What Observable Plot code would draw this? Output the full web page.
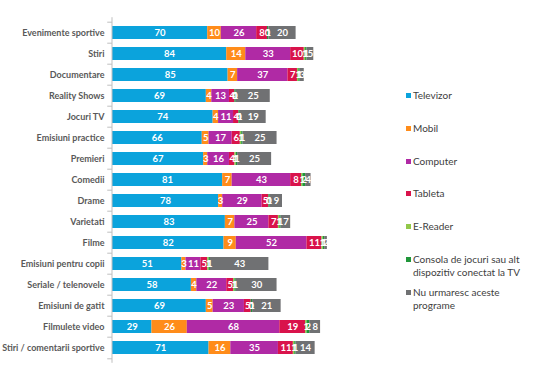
<!DOCTYPE html>
<html>
<head>
<meta charset="utf-8">
<script src="https://cdn.jsdelivr.net/npm/d3@7"></script>
<script src="https://cdn.jsdelivr.net/npm/@observablehq/plot@0.6"></script>
<style>
  html, body { margin: 0; padding: 0; background: #fff; }
  #wrap { position: relative; width: 537px; height: 374px; font-family: Lato, "Open Sans", sans-serif; }
  #legend { position: absolute; left: 406px; top: 0; font-size: 10px; color: #404040; }
  .li { position: absolute; left: 0; width: 130px; display: flex; align-items: flex-start; line-height: 13px; }
  .sw { width: 5px; height: 5px; margin-top: 4px; margin-right: 2px; flex: none; }
</style>
</head>
<body>
<div id="wrap"><div id="chart"></div><div id="legend"></div></div>
<script>
const categories = ["Evenimente sportive","Stiri","Documentare","Reality Shows","Jocuri TV","Emisiuni practice","Premieri","Comedii","Drame","Varietati","Filme","Emisiuni pentru copii","Seriale / telenovele","Emisiuni de gatit","Filmulete video","Stiri / comentarii sportive"];
const series = ["Televizor","Mobil","Computer","Tableta","E-Reader","Consola de jocuri sau alt dispozitiv conectat la TV","Nu urmaresc aceste programe"];
const televizor = [70,84,85,69,74,66,67,81,78,83,82,51,58,69,29,71];
const mobil     = [10,14,7,4,4,5,3,7,3,7,9,3,4,5,26,16];
const computer  = [26,33,37,13,11,17,16,43,29,25,52,11,22,23,68,35];
const tableta   = [8,10,7,4,4,6,4,8,5,7,11,5,5,5,19,11];
const eReader   = [0,1,1,0,0,1,1,1,0,1,1,1,1,0,1,1];
const consola   = [1,1,1,1,1,1,1,2,1,1,1,1,1,1,2,1];
const nu        = [20,5,3,25,19,25,25,4,9,7,2,43,30,21,8,14];
const colors = ["#0BA3DC","#FF8C1A","#B02AA5","#D9134B","#92C84A","#20963A","#707173"];
const legendLines = [["Televizor"],["Mobil"],["Computer"],["Tableta"],["E-Reader"],["Consola de jocuri sau alt","dispozitiv conectat la TV"],["Nu urmaresc aceste","programe"]];
const legendY = [89, 122, 155, 187, 220, 253, 286];

const cols = [televizor, mobil, computer, tableta, eReader, consola, nu];
const data = [];
categories.forEach((c, i) => series.forEach((s, j) => data.push({category: c, series: s, value: cols[j][i]})));

const step = 21.6;
const chart = Plot.plot({
  width: 537, height: 374,
  marginLeft: 112, marginRight: 537 - 112 - 160 * 1.36, marginTop: 17.2, marginBottom: 11.2,
  style: {fontFamily: "Lato, 'Open Sans', sans-serif", background: "transparent"},
  x: {domain: [0, 160], axis: null},
  y: {domain: categories, paddingInner: 0.4, paddingOuter: 0.2, label: null},
  color: {domain: series, range: colors},
  marks: [
    Plot.axisY({tickSize: 0, tickPadding: 8, fontSize: 9, fontWeight: "bold", fill: "#595959", label: null}),
    Plot.barX(data, {x: "value", y: "category", fill: "series", order: series}),
    Plot.text(data, Plot.stackX({x: "value", y: "category", z: "series", order: series, text: d => String(d.value), fill: "white", fontWeight: "bold", fontSize: 9.5})),
    Plot.ruleY(categories, {y: d => d, x1: -3.5, x2: 0, dy: -step / 2, stroke: "#bfbfbf"}),
    Plot.ruleY(categories.slice(-1), {y: d => d, x1: -3.5, x2: 0, dy: step / 2, stroke: "#bfbfbf"}),
    Plot.ruleX([0], {stroke: "#bfbfbf", dx: -0.5})
  ]
});
document.getElementById("chart").appendChild(chart);

const leg = document.getElementById("legend");
legendLines.forEach((lines, i) => {
  const d = document.createElement("div");
  d.className = "li";
  d.style.top = legendY[i] + "px";
  const sw = document.createElement("div");
  sw.className = "sw";
  sw.style.background = colors[i];
  const t = document.createElement("div");
  t.innerHTML = lines.join("<br>");
  d.appendChild(sw); d.appendChild(t);
  leg.appendChild(d);
});
</script>
</body>
</html>
